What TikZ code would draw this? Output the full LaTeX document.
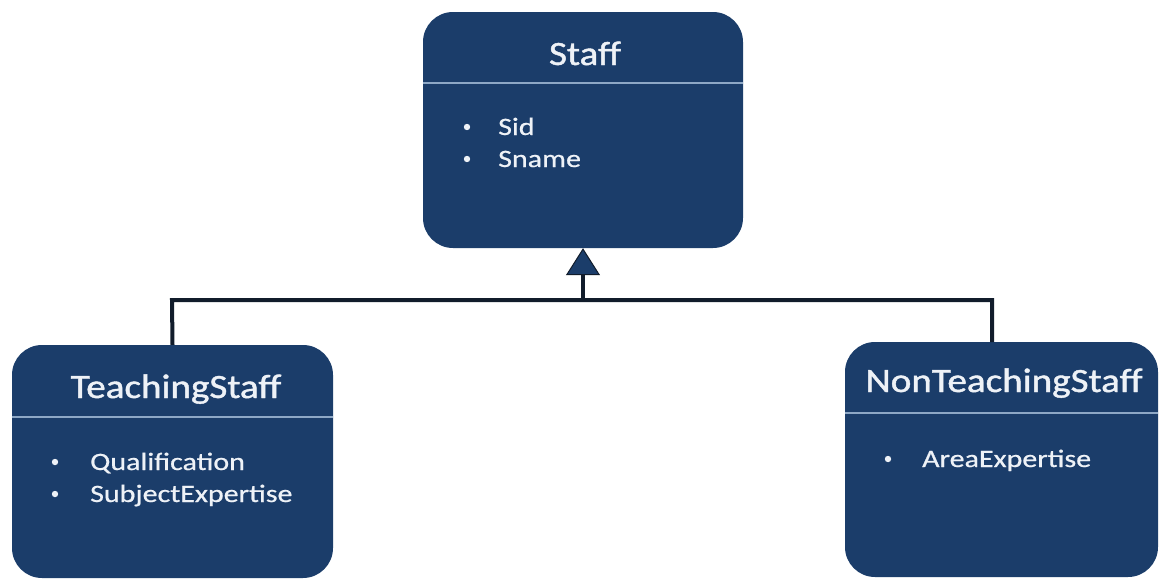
\documentclass[tikz,border=0pt]{standalone}
\usepackage{fontspec}
\setmainfont{Carlito}
\newfontfamily\titlefont[FakeBold=1.2]{Carlito}
\newfontfamily\attrfont[FakeBold=0.6]{Carlito}
\usepackage{graphicx}
\usetikzlibrary{arrows.meta}
\definecolor{boxblue}{HTML}{1B3D6A}
\definecolor{sepblue}{HTML}{8EA8C6}
\definecolor{linecol}{HTML}{111C2B}
\definecolor{txt}{HTML}{EEF2F7}
\tikzset{
  classbox/.style={fill=boxblue, draw=none, rounded corners=30pt, inner sep=0pt},
  classtitle/.style={text=txt, anchor=base, inner sep=0pt, font=\titlefont\fontsize{34}{40}\selectfont},
  attr/.style={text=txt, anchor=base west, inner sep=0pt, font=\attrfont\fontsize{25}{30}\selectfont},
  sepline/.style={draw=sepblue, line width=1.6pt},
  bul/.style={fill=txt},
  conn/.style={draw=linecol, line width=4pt},
  inherit/.style={conn, -{Triangle[length=27pt, width=34pt, fill=boxblue, line width=1pt]}}
}
\begin{document}
\begin{tikzpicture}[x=1pt, y=-1pt]
\useasboundingbox (0,0) rectangle (1160,579);
% boxes
\node[classbox, minimum width=320pt, minimum height=236pt] (staff) at (583,130) {};
\node[classbox, minimum width=321pt, minimum height=233pt] (teach) at (172.5,461.5) {};
\node[classbox, minimum width=313pt, minimum height=235pt] (nonteach) at (1001.5,459.5) {};
% separators
\draw[sepline] (staff.west |- 0,83) -- (staff.east |- 0,83);
\draw[sepline] (teach.west |- 0,417) -- (teach.east |- 0,417);
\draw[sepline] (nonteach.west |- 0,413) -- (nonteach.east |- 0,413);
% titles
\node[classtitle] (staffT) at (585,65) {\scalebox{1.15}[1]{Staff}};
\node[classtitle] (teachT) at (176,398) {\scalebox{1.15}[1]{TeachingStaff}};
\node[classtitle] (nonT) at (1004,392) {\scalebox{1.15}[1]{NonTeachingStaff}};
% attributes
\node[attr] (a1) at (498,135) {\scalebox{1.2}[1]{Sid}};
\node[attr] (a2) at (498,167) {\scalebox{1.2}[1]{Sname}};
\node[attr] (a3) at (90,470) {\scalebox{1.2}[1]{Qualification}};
\node[attr] (a4) at (90,502) {\scalebox{1.2}[1]{SubjectExpertise}};
\node[attr] (a5) at (922,467) {\scalebox{1.2}[1]{AreaExpertise}};
% bullets
\fill[bul] (467,127) circle (3.2pt);
\fill[bul] (467,159) circle (3.2pt);
\fill[bul] (55,462) circle (3.2pt);
\fill[bul] (55,494) circle (3.2pt);
\fill[bul] (888,459) circle (3.2pt);
% connectors
\coordinate (jl) at (172,300);
\coordinate (jm) at (583,300);
\coordinate (jr) at (992,300);
\coordinate (ntop) at (992,342);
\draw[conn] (teach.north) -- (jl) -- (jr) -- (ntop);
\draw[inherit] (jm) -- (staff.south);
\end{tikzpicture}
\end{document}
